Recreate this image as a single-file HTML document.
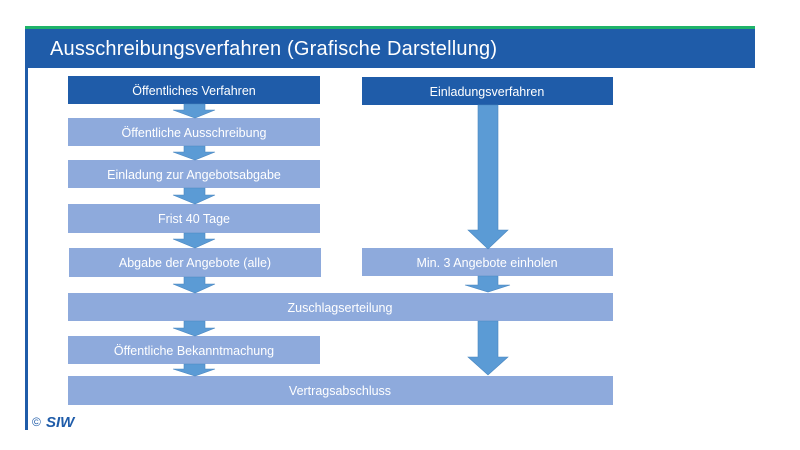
<!DOCTYPE html>
<html><head><meta charset="utf-8"><style>
html,body{margin:0;padding:0;background:#fff;width:800px;height:450px;overflow:hidden}
svg text{font-family:"Liberation Sans",sans-serif;fill:#fff}
</style></head><body>
<svg width="800" height="450" viewBox="0 0 800 450">
<rect x="25" y="26" width="730" height="3" fill="#1fb36a"/>
<rect x="25" y="29" width="730" height="39" fill="#1f5ca9"/>
<rect x="25" y="68" width="3" height="362" fill="#1f5ca9"/>
<text x="50" y="55" font-size="20" textLength="447" style="fill:#fff">Ausschreibungsverfahren (Grafische Darstellung)</text>
<g fill="#8eaadc">
<rect x="68" y="118" width="252" height="28"/>
<rect x="68" y="160" width="252" height="28"/>
<rect x="68" y="204" width="252" height="29"/>
<rect x="69" y="248" width="252" height="29"/>
<rect x="362" y="248" width="251" height="28"/>
<rect x="68" y="293" width="545" height="28"/>
<rect x="68" y="336" width="252" height="28"/>
<rect x="68" y="376" width="545" height="29"/>
</g>
<rect x="68" y="76" width="252" height="28" fill="#1f5ca9"/>
<rect x="362" y="77" width="251" height="28" fill="#1f5ca9"/>
<g fill="#5b9bd5" stroke="#4a87c0" stroke-width="0.6">
<polygon points="184,104 205,104 205,110 215,110 195,118 173,110 184,110"/>
<polygon points="184,146 205,146 205,152 215,152 195,160 173,152 184,152"/>
<polygon points="184,188 205,188 205,195 215,195 195,204 173,195 184,195"/>
<polygon points="184,233 205,233 205,239 215,239 195,248 173,239 184,239"/>
<polygon points="184,277 205,277 205,284 215,284 195,293 173,284 184,284"/>
<polygon points="184,321 205,321 205,328 215,328 195,336 173,328 184,328"/>
<polygon points="184,364 205,364 205,369 215,369 195,376 173,369 184,369"/>
<polygon points="478,105 498,105 498,230 508,230 488,249 468,230 478,230"/>
<polygon points="478,276 498,276 498,285 510,285 488,292 465,285 478,285"/>
<polygon points="478,321 498,321 498,357 508,357 488,375 468,357 478,357"/>
</g>
<g font-size="12.5" text-anchor="middle">
<text x="194" y="95">Öffentliches Verfahren</text>
<text x="487" y="96">Einladungsverfahren</text>
<text x="194" y="137">Öffentliche Ausschreibung</text>
<text x="194" y="179">Einladung zur Angebotsabgabe</text>
<text x="194" y="223">Frist 40 Tage</text>
<text x="195" y="267">Abgabe der Angebote (alle)</text>
<text x="487" y="267">Min. 3 Angebote einholen</text>
<text x="340" y="312">Zuschlagserteilung</text>
<text x="194" y="355">Öffentliche Bekanntmachung</text>
<text x="340" y="395">Vertragsabschluss</text>
</g>
<text x="32" y="426" font-size="12" style="fill:#1f5ca9">©</text>
<text x="46" y="427" font-size="15" font-weight="bold" font-style="italic" style="fill:#1f5ca9">SIW</text>
</svg>
</body></html>
